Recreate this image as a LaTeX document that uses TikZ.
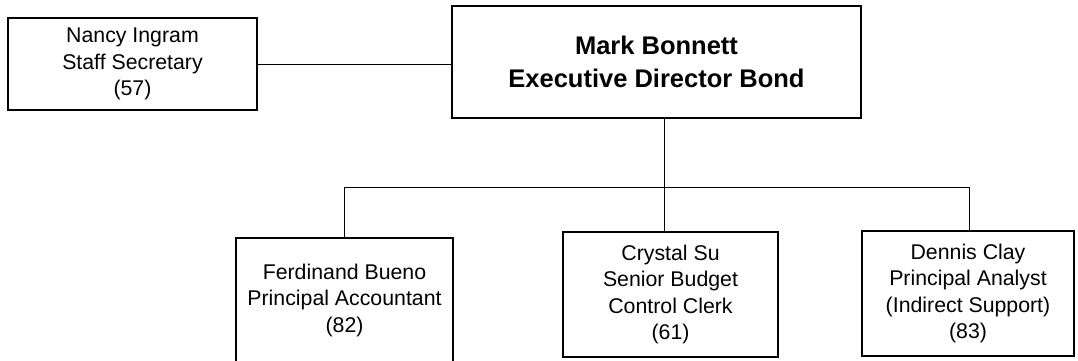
\documentclass[tikz,border=0pt]{standalone}
\usepackage{fontspec}
\setmainfont{Liberation Sans}
\begin{document}
\begin{tikzpicture}[x=1pt,y=-1pt,
  box/.style={draw,line width=1.3pt,inner sep=0pt,align=center,
    font=\fontsize{21.3}{26.5}\selectfont},
  bigbox/.style={draw,line width=1.3pt,inner sep=0pt,align=center,
    font=\bfseries\fontsize{25.5}{33}\selectfont},
  link/.style={line width=0.9pt}]
\useasboundingbox (0,0) rectangle (1078,360);
\clip (0,0) rectangle (1078,360);
\node[box,minimum width=249pt,minimum height=92pt] (nancy) at (132.5,64)
  {Nancy Ingram\\Staff Secretary\\(57)};
\node[bigbox,minimum width=409pt,minimum height=112pt] (mark) at (656.5,62)
  {Mark Bonnett\\Executive Director Bond};
\node[box,minimum width=217pt,minimum height=124pt] (ferd) at (344.5,300)
  {Ferdinand Bueno\\Principal Accountant\\(82)};
\node[box,minimum width=215pt,minimum height=125pt] (crystal) at (670.5,294.5)
  {Crystal Su\\Senior Budget\\Control Clerk\\(61)};
\node[box,minimum width=212pt,minimum height=125pt] (dennis) at (968,293.5)
  {Dennis Clay\\Principal Analyst\\(Indirect Support)\\(83)};
\coordinate (busL) at (344,187);
\coordinate (busM) at (664,187);
\coordinate (busR) at (969,187);
\draw[link] (nancy.east) -- (mark.west |- nancy.east);
\draw[link] (mark.south -| busM) -- (crystal.north -| busM);
\draw[link] (ferd.north -| busL) -- (busL) -- (busR) -- (dennis.north -| busR);
\end{tikzpicture}
\end{document}
